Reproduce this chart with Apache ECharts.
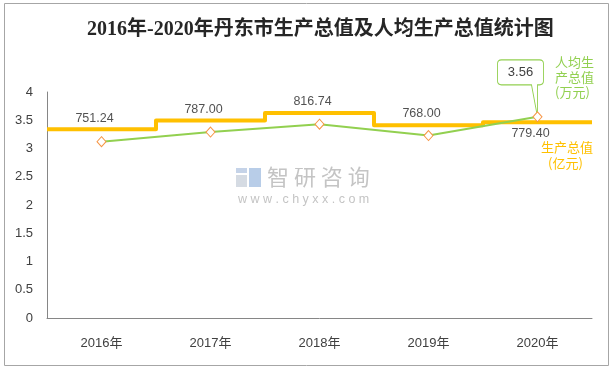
<!DOCTYPE html>
<html>
<head>
<meta charset="utf-8">
<script src="https://cdn.jsdelivr.net/npm/echarts@6/dist/echarts.min.js"></script>
<style>
html,body{margin:0;padding:0;background:#fff;}
#chart{width:614px;height:371px;}
</style>
</head>
<body>
<div id="chart"></div>
<script>
const categories = ['2016年', '2017年', '2018年', '2019年', '2020年'];
const gdp = [751.24, 787.00, 816.74, 768.00, 779.40];      // 生产总值（亿元）
const perCapita = [3.12, 3.29, 3.43, 3.23, 3.56];          // 人均生产总值（万元）
const yTicks = { min: 0, max: 4, interval: 0.5 };
const gdpAxis = { min: 0, max: 900 };

const chart = echarts.init(document.getElementById('chart'), null, { renderer: 'canvas' });

const stepData = gdp.map((v, i) => [i, v]).concat([[gdp.length, gdp[gdp.length - 1]]]);
const lastIdx = perCapita.length - 1;

// callout balloon: box 46x25 with a narrow pointer whose tip is at (40,57)
const calloutPath = 'path://M4,0 L42,0 Q46,0 46,4 L46,21 Q46,25 42,25 L40,25 L40,57 L34,25 L4,25 Q0,25 0,21 L0,4 Q0,0 4,0 Z';

const option = {
  backgroundColor: '#ffffff',
  animation: false,
  title: {
    text: '2016年-2020年丹东市生产总值及人均生产总值统计图',
    left: 82,
    top: 15,
    textStyle: {
      fontFamily: '"Liberation Serif", "Noto Sans CJK SC"',
      fontWeight: 'bold',
      fontSize: 20,
      color: '#262626'
    }
  },
  grid: { left: 47, right: 22, top: 92, bottom: 53 },
  xAxis: [
    {
      type: 'category',
      data: categories,
      boundaryGap: true,
      axisLine: { show: true, lineStyle: { color: '#868686', width: 1 } },
      axisTick: { show: false },
      axisLabel: { color: '#404040', fontSize: 13, margin: 19, fontFamily: '"Liberation Sans", "Noto Sans CJK SC"' },
      splitLine: { show: false }
    },
    {
      type: 'value',
      min: 0,
      max: categories.length,
      show: false
    }
  ],
  yAxis: [
    {
      type: 'value',
      min: yTicks.min,
      max: yTicks.max,
      interval: yTicks.interval,
      axisLine: { show: true, lineStyle: { color: '#868686', width: 1 } },
      axisTick: { show: false },
      axisLabel: { color: '#404040', fontSize: 13, margin: 14, fontFamily: '"Liberation Sans", "Noto Sans CJK SC"' },
      splitLine: { show: false }
    },
    {
      type: 'value',
      min: gdpAxis.min,
      max: gdpAxis.max,
      show: false
    }
  ],
  series: [
    {
      name: '生产总值（亿元）',
      type: 'line',
      xAxisIndex: 1,
      yAxisIndex: 1,
      step: 'end',
      data: stepData,
      symbol: 'none',
      lineStyle: { color: '#FFC000', width: 4, join: 'round' },
      z: 2
    },
    {
      name: 'gdpLabels',
      type: 'scatter',
      xAxisIndex: 0,
      yAxisIndex: 1,
      symbolSize: 0,
      data: gdp.map((v, i) => ({
        value: v,
        label: { position: i === gdp.length - 1 ? 'bottom' : 'top' }
      })),
      label: {
        show: true,
        distance: 5,
        offset: [-7, 0],
        color: '#262626',
        fontSize: 12.5,
        fontFamily: '"Liberation Sans", "Noto Sans CJK SC"',
        formatter: p => p.value.toFixed(2)
      },
      z: 5
    },
    {
      name: '人均生产总值（万元）',
      type: 'line',
      xAxisIndex: 0,
      yAxisIndex: 0,
      data: perCapita,
      symbol: 'diamond',
      symbolSize: [9, 10],
      showAllSymbol: true,
      lineStyle: { color: '#92D050', width: 2 },
      itemStyle: { color: '#ffffff', borderColor: '#F79646', borderWidth: 1 },
      label: { show: false },
      markPoint: {
        symbol: calloutPath,
        symbolSize: [46, 57],
        symbolKeepAspect: false,
        symbolOffset: [-17, -28.5],
        itemStyle: { color: '#ffffff', borderColor: '#92D050', borderWidth: 1 },
        label: {
          show: true,
          position: 'inside',
          offset: [0, -16],
          color: '#404040',
          fontSize: 13,
          fontFamily: '"Liberation Sans", "Noto Sans CJK SC"',
          formatter: p => p.value.toFixed(2)
        },
        data: [{ coord: [lastIdx, perCapita[lastIdx]], value: perCapita[lastIdx] }],
        z: 1
      },
      z: 3
    }
  ],
  graphic: [
    {
      type: 'rect',
      shape: { x: 4.5, y: 3.5, width: 604, height: 362 },
      style: { fill: 'none', stroke: '#a6a6a6', lineWidth: 1 },
      silent: true,
      z: -1
    },
    {
      type: 'text',
      left: 555,
      top: 55,
      style: {
        text: '人均生\n产总值\n(万元)',
        fill: '#92D050',
        font: '13px "Noto Sans CJK SC"',
        lineHeight: 15
      }
    },
    {
      type: 'text',
      left: 541,
      top: 139,
      style: { text: '生产总值', fill: '#FFC000', font: '13px "Noto Sans CJK SC"', lineHeight: 16 }
    },
    {
      type: 'text',
      left: 548,
      top: 155,
      style: { text: '(亿元)', fill: '#FFC000', font: '13px "Noto Sans CJK SC"', lineHeight: 16 }
    },
    {
      type: 'group',
      left: 236,
      top: 166,
      silent: true,
      children: [
        { type: 'rect', shape: { x: 0, y: 2, width: 11, height: 5 }, style: { fill: '#c5d3e8' } },
        { type: 'rect', shape: { x: 0, y: 9, width: 11, height: 12 }, style: { fill: '#d5dbe3' } },
        { type: 'rect', shape: { x: 13, y: 2, width: 12, height: 19 }, style: { fill: '#b8cde8' } },
        {
          type: 'text',
          x: 31,
          y: 0,
          style: { text: '智 研 咨 询', fill: '#c4c4c4', font: '22px "Noto Sans CJK SC"' }
        },
        {
          type: 'text',
          x: 2,
          y: 27,
          style: { text: 'w w w . c h y x x . c o m', fill: '#c4c4c4', font: '12.5px "Liberation Sans"' }
        }
      ]
    }
  ]
};

chart.setOption(option);
</script>
</body>
</html>
